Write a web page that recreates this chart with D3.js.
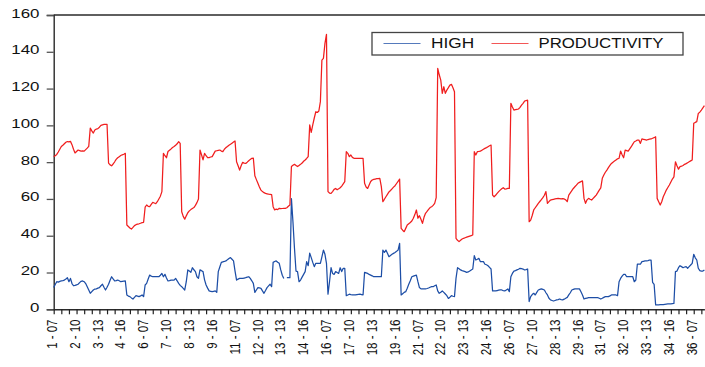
<!DOCTYPE html>
<html><head><meta charset="utf-8">
<script src="https://cdn.jsdelivr.net/npm/d3@7/dist/d3.min.js"></script>
<style>body{margin:0;background:#fff}svg{display:block}</style>
</head><body>
<svg id="chart" width="705" height="367"></svg>
<script>
// ---- data ----
const hours = ["07","08","09","10","11","12","13","14","15","16","17","18"];
const dayCount = 36;
const seriesNames = ["HIGH", "PRODUCTIVITY"];
const tickLabels = ["1 - 07","2 - 10","3 - 13","4 - 16","6 - 07","7 - 10","8 - 13","9 - 16",
  "11 - 07","12 - 10","13 - 13","14 - 16","16 - 07","17 - 10","18 - 13","19 - 16",
  "21 - 07","22 - 10","23 - 13","24 - 16","26 - 07","27 - 10","28 - 13","29 - 16",
  "31 - 07","32 - 10","33 - 13","34 - 16","36 - 07"];
const yTicks = [0,20,40,60,80,100,120,140,160];

const productivity = [
83.0,83.5,84.2,85.5,87.0,88.5,89.2,90.0,90.8,91.2,91.0,91.3,
89.5,87.0,85.0,85.8,86.6,86.3,86.0,86.1,86.0,86.8,87.6,88.6,
98.5,97.0,95.8,97.5,98.0,98.2,99.0,100.0,100.3,100.5,100.5,100.6,
79.5,78.5,78.0,79.0,80.2,81.5,82.4,83.0,83.6,84.0,84.3,84.8,
45.8,45.0,44.2,43.6,44.5,45.5,46.0,46.3,46.5,46.8,47.1,47.3,
55.5,56.7,56.0,55.8,57.0,58.1,57.8,57.4,58.5,60.0,61.5,64.0,
84.8,83.5,82.4,85.8,86.5,87.2,88.0,88.5,89.2,90.0,91.1,90.2,
53.0,50.5,49.0,50.8,52.5,53.5,54.2,54.8,55.3,56.5,58.0,60.0,
86.6,84.0,81.2,84.8,83.5,82.4,82.5,82.8,83.0,84.5,86.0,86.2,
86.4,86.6,86.0,85.7,87.0,87.9,88.5,89.2,89.7,90.3,90.9,91.5,
80.2,78.0,75.7,78.0,79.9,79.5,79.3,80.0,80.8,81.5,82.1,82.2,
72.6,70.5,68.5,66.5,64.8,64.0,63.4,63.0,62.8,62.6,62.5,62.4,
55.8,54.0,54.5,54.2,54.9,54.7,54.8,54.9,54.9,55.2,56.0,56.7,
77.6,78.3,78.8,78.2,77.6,78.2,78.8,79.5,80.5,81.2,82.0,83.0,
100.2,96.2,100.2,104.0,107.4,107.0,107.8,112.9,135.5,136.4,144.6,149.5,
64.0,63.2,63.0,64.0,65.2,65.7,65.0,65.5,66.1,67.0,68.2,69.4,
85.7,84.8,83.0,83.9,82.6,82.1,82.1,82.0,82.1,82.1,82.0,82.1,
68.5,66.5,65.7,67.6,69.5,70.3,70.6,70.8,71.0,71.0,71.2,66.7,
58.5,59.8,61.2,62.5,63.8,64.6,65.5,66.4,67.2,68.4,69.6,70.8,
44.0,43.0,42.2,44.0,45.8,46.5,47.2,48.0,49.5,51.5,54.0,49.5,
50.9,49.0,46.7,50.0,52.2,53.2,54.3,55.3,55.8,56.5,57.6,60.7,
131.0,127.5,124.6,117.4,121.0,117.4,119.2,120.5,121.9,122.3,120.5,118.3,
38.6,37.5,36.8,37.5,38.2,38.6,38.9,39.2,39.5,39.8,40.1,40.4,
85.7,83.9,85.7,85.8,86.0,86.5,87.0,87.5,87.9,88.4,88.9,89.3,
62.1,61.2,62.0,63.0,64.0,64.8,65.5,66.1,65.4,65.5,65.7,65.7,
112.0,110.0,108.3,108.5,108.7,108.9,109.8,111.0,112.0,113.2,113.5,113.7,
47.6,48.5,51.0,54.0,55.2,56.4,57.6,58.6,59.6,60.7,62.0,64.0,
57.6,58.5,59.4,59.6,59.8,60.0,60.2,60.3,60.2,60.0,60.2,60.0,
59.5,58.5,62.1,63.3,64.5,65.7,66.6,67.5,68.5,69.0,69.4,69.8,
60.3,57.6,59.5,60.3,59.8,59.4,60.3,61.2,62.1,63.4,64.8,66.0,
71.2,73.0,74.5,75.7,77.0,78.2,79.3,80.0,80.6,81.2,81.8,82.1,
86.0,84.0,82.4,86.6,86.3,86.0,87.2,88.4,89.8,91.1,91.5,92.0,
92.0,90.2,92.6,92.4,92.2,92.0,92.3,92.5,92.6,93.0,93.3,93.8,
60.3,58.5,56.7,58.5,61.2,63.0,64.8,66.2,67.6,69.2,70.8,72.0,
80.2,78.0,76.2,77.6,77.8,78.2,78.8,79.2,79.7,80.2,80.7,81.2,
101.1,101.6,102.0,106.5,107.2,108.3,109.5,110.7
];

const high = [
11.8,13.5,15.0,14.8,15.2,15.4,15.6,15.9,16.5,17.2,15.0,16.8,
14.0,12.8,13.0,13.3,13.6,14.5,15.2,15.4,15.0,14.0,12.3,10.5,
8.7,9.6,10.5,11.0,11.1,11.5,11.8,12.8,13.6,12.0,10.5,12.0,
13.6,15.8,17.7,16.5,15.4,15.6,15.9,15.5,15.0,15.2,15.3,15.4,
7.8,7.2,6.9,6.2,5.6,6.5,7.4,7.2,6.9,7.3,7.8,6.9,
13.2,14.1,16.5,18.6,18.0,17.7,17.7,17.7,17.8,17.7,18.5,19.5,
17.7,19.0,17.0,15.4,15.6,15.9,15.9,15.9,16.8,15.5,14.1,13.0,
12.3,11.4,10.5,15.0,21.4,20.8,20.1,22.6,21.5,20.5,17.7,16.8,
21.4,21.0,20.5,16.0,13.2,11.5,10.0,9.8,9.6,9.8,10.0,9.2,
20.5,23.0,25.5,25.8,26.0,26.3,27.0,27.6,28.1,27.2,26.3,20.8,
15.9,16.4,16.8,16.8,16.8,17.0,17.2,17.5,17.7,16.8,15.5,14.1,
9.2,10.5,11.8,11.6,11.4,10.0,8.7,10.2,11.8,12.7,13.6,12.3,
25.5,26.0,26.3,25.6,25.0,21.4,18.5,16.8,null,17.2,17.2,17.2,
60.2,47.6,33.2,20.8,20.5,15.0,15.9,17.5,19.0,20.5,25.9,23.7,
30.5,28.1,25.5,23.2,25.0,25.0,25.0,25.0,28.5,32.2,29.9,25.0,
8.2,15.0,22.6,19.5,19.0,20.5,20.0,19.5,22.6,20.5,22.3,22.3,
7.4,7.8,8.2,8.0,7.9,7.8,7.8,8.0,8.1,8.2,8.0,7.8,
20.1,19.8,19.5,19.0,18.6,18.2,17.7,17.7,17.7,17.7,17.7,17.7,
32.2,30.9,32.2,30.5,28.6,29.3,29.9,30.4,30.9,31.5,32.2,35.8,
7.8,8.5,9.2,9.6,11.5,13.6,15.5,17.7,18.0,18.3,18.6,15.0,
11.8,11.1,11.1,11.1,11.1,11.3,11.6,12.0,12.3,12.3,12.8,13.2,
10.0,8.7,9.3,10.0,9.2,8.3,7.4,5.9,6.6,7.4,7.1,6.9,
16.8,22.6,22.0,21.4,21.0,20.8,20.5,20.1,20.3,20.8,21.4,21.9,
29.2,26.8,27.2,27.7,25.9,25.9,25.9,24.5,24.2,23.7,22.8,21.9,
10.0,10.0,10.0,10.2,10.4,10.5,10.5,10.2,10.0,10.5,11.1,9.6,
17.7,19.5,20.8,21.0,21.4,21.8,22.3,22.1,21.9,21.4,21.6,21.9,
4.2,6.9,8.0,8.7,7.8,9.2,10.5,10.8,11.1,10.8,10.5,9.0,
7.8,6.0,5.1,4.8,4.5,4.8,5.1,5.3,5.6,5.3,5.1,5.5,
6.0,6.5,7.8,9.0,10.5,10.8,11.1,11.1,11.1,11.1,9.5,7.8,
5.6,5.9,6.1,6.3,6.3,6.3,6.3,6.3,6.3,6.3,6.0,5.6,
6.0,6.5,6.9,6.9,6.9,7.3,7.8,7.8,7.8,7.8,7.4,15.0,
16.8,18.0,19.0,19.0,17.7,17.7,17.7,17.7,17.7,15.0,15.9,24.5,
24.5,24.5,25.9,26.1,26.3,26.3,26.5,26.8,26.8,14.7,13.6,2.4,
2.4,2.4,2.5,2.6,2.6,2.7,2.8,2.9,2.9,3.0,3.1,3.2,
20.5,20.8,22.6,23.7,23.2,22.6,23.0,23.2,22.3,23.2,24.1,25.0,
29.9,28.0,26.8,22.3,21.0,20.8,20.8,21.4
];

// categories "day - hour"
const categories = [];
for (let d = 1; d <= dayCount; d++) for (const h of hours) categories.push(d + " - " + h);
categories.length = productivity.length;

// ---- chart ----
const colors = {HIGH: "#1d4ea6", PRODUCTIVITY: "#f01e1e"};
const svg = d3.select("#chart");
const plotLeft = 53.7, plotRight = 704.4, plotTop = 15, plotBottom = 309.3;

const x = d3.scalePoint().domain(categories).range([plotLeft, plotRight]).padding(0);
const y = d3.scaleLinear().domain([0, 160]).range([plotBottom, plotTop]);

// frame top line
svg.append("line").attr("x1", plotLeft).attr("x2", 705).attr("y1", plotTop).attr("y2", plotTop)
  .attr("stroke", "#2a2a2a").attr("stroke-width", 1.4);

// y axis
const yAxis = svg.append("g").attr("transform", `translate(${plotLeft},0)`)
  .call(d3.axisLeft(y).tickValues(yTicks).tickSize(7).tickFormat(""));
yAxis.select(".domain").attr("stroke", "#2a2a2a").attr("stroke-width", 1.4);
yAxis.selectAll(".tick line").attr("stroke", "#555").attr("stroke-width", 1.3);
svg.append("g").selectAll("text").data(yTicks).join("text")
  .attr("transform", d => `translate(39.5,${y(d) + 2.5}) scale(1.25,1)`)
  .attr("text-anchor", "end")
  .attr("font-family", "Liberation Sans, Arial, sans-serif")
  .attr("font-size", 13.5).attr("fill", "#111")
  .text(d => d);

// x axis
const tickCats = categories.filter((c, i) => i % 5 === 0);
const xAxis = svg.append("g").attr("transform", `translate(0,${plotBottom})`)
  .call(d3.axisBottom(x).tickValues(tickCats).tickSize(5).tickSizeOuter(0).tickFormat(""));
xAxis.select(".domain").attr("stroke", "#2a2a2a").attr("stroke-width", 1.4);
xAxis.selectAll(".tick line").attr("stroke", "#222").attr("stroke-width", 1.2);
svg.append("g").selectAll("text").data(tickLabels).join("text")
  .attr("transform", d => `translate(${x(d) + 3.2},319.5) scale(1.25,1) rotate(-90)`)
  .attr("text-anchor", "end")
  .attr("font-family", "Liberation Sans, Arial, sans-serif")
  .attr("font-size", 11.5).attr("fill", "#111")
  .text(d => d);

// lines
const series = [
  {name: "HIGH", values: high},
  {name: "PRODUCTIVITY", values: productivity}
];
const line = d3.line()
  .defined(d => d.v != null)
  .x(d => x(d.c)).y(d => y(d.v));
svg.append("g").selectAll("path").data(series).join("path")
  .attr("fill", "none")
  .attr("stroke", d => colors[d.name])
  .attr("stroke-width", 1.25)
  .attr("stroke-linejoin", "round")
  .attr("d", d => line(d.values.map((v, i) => ({c: categories[i], v}))));

// legend
const lg = svg.append("g");
lg.append("rect").attr("x", 372).attr("y", 32.5).attr("width", 311).attr("height", 22.5)
  .attr("fill", "#fff").attr("stroke", "#444").attr("stroke-width", 1.3);
const legendItems = [
  {name: seriesNames[0], lx: 383.5, tx: 431, sx: 1.15},
  {name: seriesNames[1], lx: 491.5, tx: 538.5, sx: 1.12}
];
legendItems.forEach(it => {
  lg.append("line").attr("x1", it.lx).attr("x2", it.lx + 37).attr("y1", 43.5).attr("y2", 43.5)
    .attr("stroke", colors[it.name]).attr("stroke-width", 1.2).attr("opacity", 0.75);
  lg.append("text").attr("transform", `translate(${it.tx},47.5) scale(${it.sx},1)`)
    .attr("font-family", "Liberation Sans, Arial, sans-serif")
    .attr("font-size", 15).attr("fill", "#111").text(it.name);
});
</script>
</body></html>
